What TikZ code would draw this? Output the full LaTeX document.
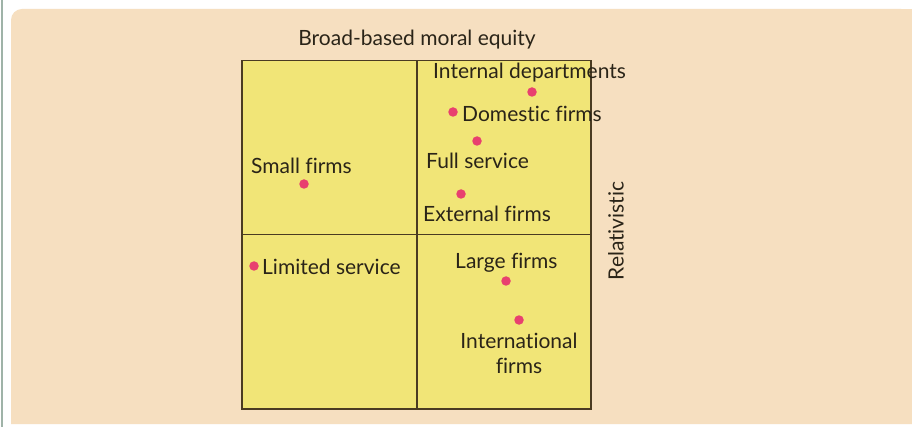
\documentclass[tikz,border=0pt]{standalone}
\usepackage{fontspec}
\setmainfont[Ligatures={NoCommon,NoRequired,NoContextual,NoDiscretionary}]{Lato}
\definecolor{panel}{HTML}{F6DFC0}
\definecolor{boxfill}{HTML}{F1E577}
\definecolor{boxline}{HTML}{4A3B22}
\definecolor{dotc}{HTML}{E8406F}
\definecolor{edge}{HTML}{9FB3A8}
\definecolor{txt}{HTML}{2A2418}
\begin{document}
\begin{tikzpicture}[x=1pt,y=-1pt,
  lbl/.style={font=\fontsize{21}{23}\selectfont, text=txt, inner sep=0pt},
  dot/.style={circle, fill=dotc, inner sep=0pt, minimum size=9.5pt},
  quad/.style={draw=boxline, line width=1.5pt, fill=boxfill}]
\useasboundingbox (0,0) rectangle (912,427);
\fill[white] (0,0) rectangle (912,427);
\draw[edge, line width=2pt] (2,0) -- (2,427);
\fill[panel, rounded corners=11pt] (11,424) -- (11,9) -- (912,9) [sharp corners] -- (912,424) -- cycle;
\fill[panel] (11,300) rectangle (912,424);
\fill[panel] (600,9) rectangle (912,424);
% quadrants
\node[quad, minimum width=175pt, minimum height=174pt, inner sep=0pt, anchor=north west] (q1) at (241,60) {};
\node[quad, minimum width=174pt, minimum height=174pt, inner sep=0pt, anchor=north west] (q2) at (416,60) {};
\node[quad, minimum width=175pt, minimum height=174pt, inner sep=0pt, anchor=north west] (q3) at (241,234) {};
\node[quad, minimum width=174pt, minimum height=174pt, inner sep=0pt, anchor=north west] (q4) at (416,234) {};
% axis labels
\node[lbl] (title) at (417,40) {Broad-based moral equity};
\node[lbl, rotate=90] (rel) at (616,231) {Relativistic};
% dots
\node[dot] (d1) at (532,92) {};
\node[dot] (d2) at (453,112) {};
\node[dot] (d3) at (477,141) {};
\node[dot] (d4) at (304,184) {};
\node[dot] (d5) at (461,194) {};
\node[dot] (d6) at (254,266) {};
\node[dot] (d7) at (506,281) {};
\node[dot] (d8) at (519,320) {};
% labels
\node[lbl, anchor=west] (t1) at (433,73) {Internal departments};
\node[lbl, anchor=west] (t2) at (462,114) {Domestic firms};
\node[lbl, anchor=west] (t3) at (426,161) {Full service};
\node[lbl, anchor=west] (t4) at (251,166) {Small firms};
\node[lbl, anchor=west] (t5) at (423,214) {External firms};
\node[lbl, anchor=west] (t6) at (262,267) {Limited service};
\node[lbl, anchor=west] (t7) at (455,263) {Large firms};
\node[lbl, align=center] (t8) at (519,353) {International\\[2pt]firms};
\end{tikzpicture}
\end{document}
